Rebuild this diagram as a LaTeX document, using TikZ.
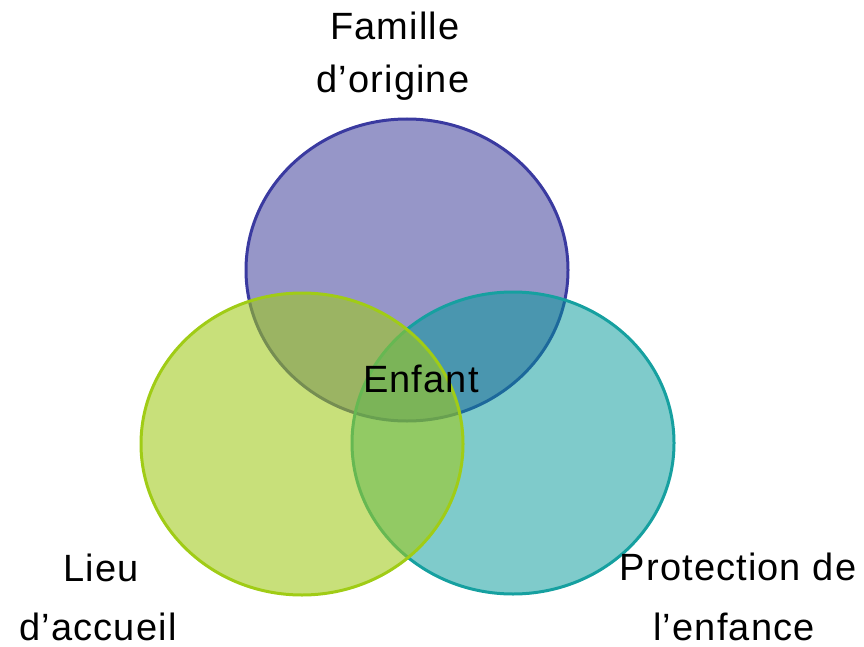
\documentclass[tikz,border=0pt]{standalone}
\usepackage{fontspec}
\setmainfont{Liberation Sans}[LetterSpace=3]
\usetikzlibrary{shapes.geometric}
\definecolor{topfill}{RGB}{150,150,200}
\definecolor{topline}{RGB}{58,58,160}
\definecolor{leftfill}{RGB}{160,202,26}
\definecolor{leftline}{RGB}{160,204,22}
\definecolor{rightfill}{RGB}{0,151,151}
\definecolor{rightline}{RGB}{22,160,160}
\tikzset{
  blob/.style={ellipse, minimum width=322pt, minimum height=302pt, inner sep=0pt, line width=3pt},
  lbl/.style={anchor=base, inner sep=0pt, font=\fontsize{38}{40}\selectfont, text=black}
}
\begin{document}
\begin{tikzpicture}[x=1pt,y=-1pt]
\useasboundingbox (0,0) rectangle (864,647);
\node[blob, draw=topline, fill=topfill] (famille) at (407,270) {};
\node[blob, draw=rightline, fill=rightfill, fill opacity=0.5] (protection) at (513,443) {};
\node[blob, draw=leftline, fill=leftfill, fill opacity=0.58] (lieu) at (302,444) {};
\node[lbl] (t1) at (395,40) {Famille};
\node[lbl] (t2) at (393,93) {d’origine};
\node[lbl] (t3) at (421,392) {Enfant};
\node[lbl] (t4) at (101,581) {Lieu};
\node[lbl] (t5) at (98,640) {d’accueil};
\node[lbl] (t6) at (738,580) {Protection de};
\node[lbl] (t7) at (734,640) {l’enfance};
\end{tikzpicture}
\end{document}
